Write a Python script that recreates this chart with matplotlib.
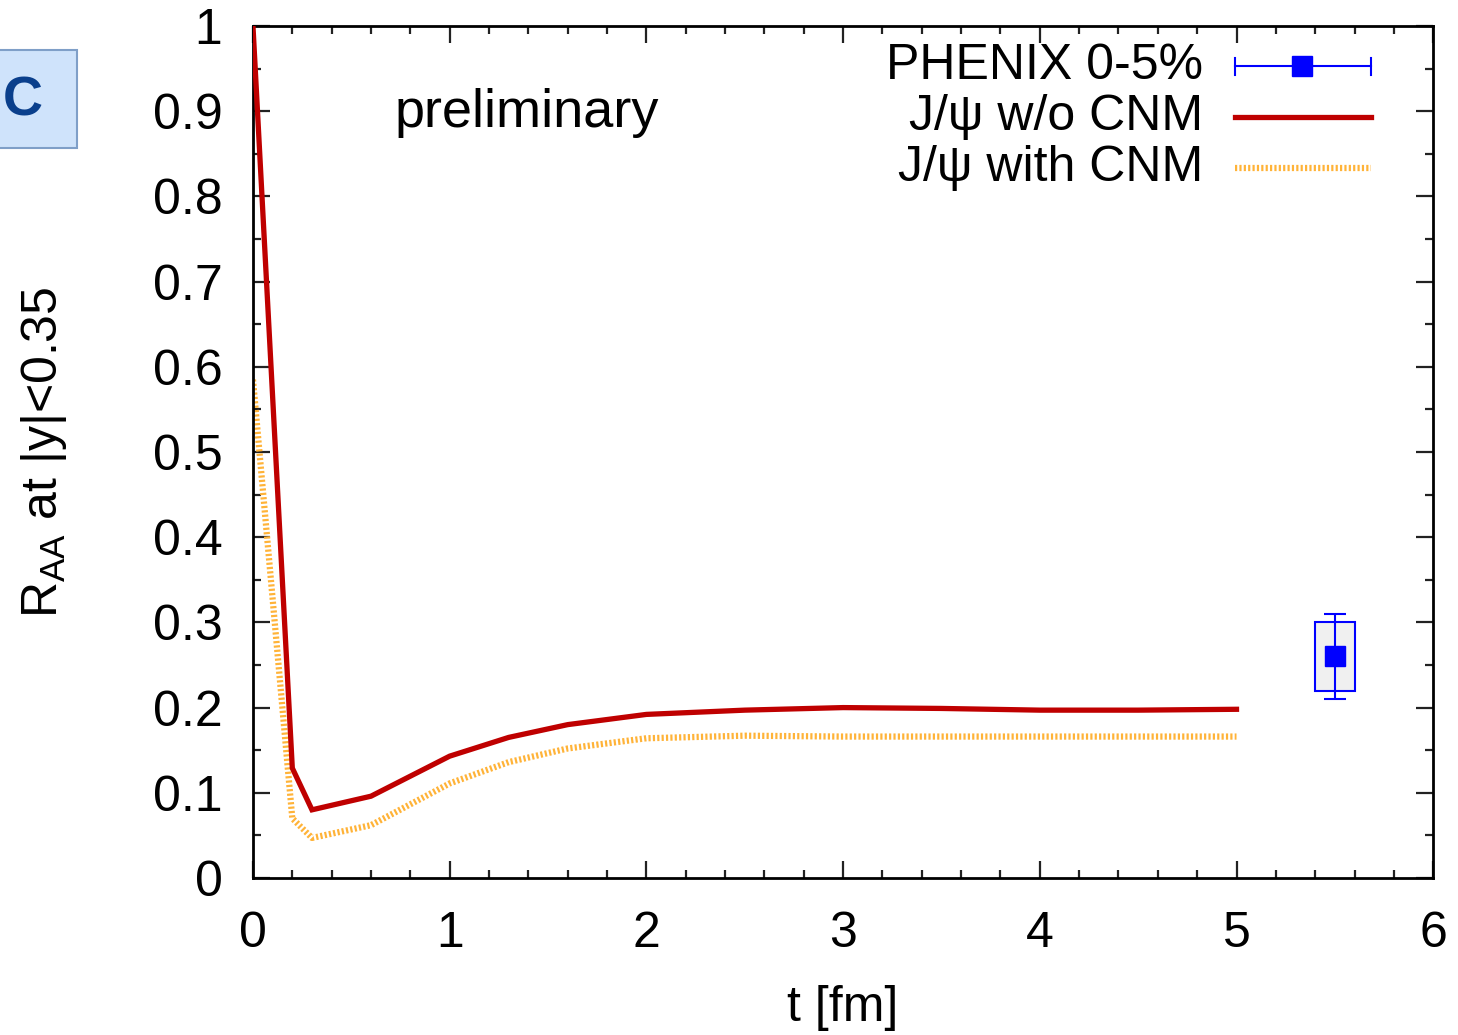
import matplotlib
matplotlib.use("Agg")
import matplotlib.pyplot as plt
from matplotlib.patches import FancyBboxPatch, Rectangle
from matplotlib.ticker import MultipleLocator
import numpy as np

plt.rcParams['font.family'] = ['Liberation Sans', 'DejaVu Sans']

# data
t_wo = [0.0, 0.2, 0.3, 0.6, 1.0, 1.3, 1.6, 2.0, 2.5, 3.0, 3.5, 4.0, 4.5, 5.0]
r_wo = [1.0, 0.129, 0.080, 0.096, 0.143, 0.165, 0.180, 0.192, 0.197, 0.200, 0.199, 0.197, 0.197, 0.198]
t_with = [0.0, 0.2, 0.3, 0.6, 1.0, 1.3, 1.6, 2.0, 2.5, 3.0, 3.5, 4.0, 4.5, 5.0]
r_with = [0.585, 0.070, 0.047, 0.062, 0.111, 0.136, 0.152, 0.164, 0.167, 0.166, 0.166, 0.166, 0.166, 0.166]
phenix_t = [5.5]
phenix_r = [0.26]
phenix_stat_lo = [0.21]
phenix_stat_hi = [0.31]
phenix_sys_lo = [0.22]
phenix_sys_hi = [0.30]
sys_halfwidth = 0.1

FS = 36

fig = plt.figure(figsize=(14.58, 10.35), dpi=100)
ax = fig.add_axes([0.1735, 0.1517, 0.8095, 0.8232])

red = '#bf0000'
yel = '#ffb338'
blue = '#0000ff'
dotted = (0, (0.35, 0.35))

ax.plot(t_wo, r_wo, color=red, lw=3.8, solid_joinstyle='miter', zorder=3)
ax.plot(t_with, r_with, color=yel, lw=4.5, linestyle=dotted, zorder=2)

for tt, r, slo, shi, elo, ehi in zip(phenix_t, phenix_r, phenix_sys_lo, phenix_sys_hi,
                                     phenix_stat_lo, phenix_stat_hi):
    ax.add_patch(Rectangle((tt - sys_halfwidth, slo), 2 * sys_halfwidth, shi - slo,
                           facecolor='#f0f0f0', edgecolor=blue, lw=1.5, zorder=3))
    ax.errorbar([tt], [r], yerr=[[r - elo], [ehi - r]], fmt='s', color=blue,
                ms=15, capsize=8, elinewidth=1.5, capthick=1.5, zorder=4)

ax.set_xlim(0, 6)
ax.set_ylim(0, 1)
ax.xaxis.set_major_locator(MultipleLocator(1))
ax.xaxis.set_minor_locator(MultipleLocator(0.2))
ax.yaxis.set_major_locator(MultipleLocator(0.1))
ax.yaxis.set_minor_locator(MultipleLocator(0.05))
ax.yaxis.set_major_formatter(plt.FuncFormatter(lambda v, p: '0' if abs(v) < 1e-9 else ('1' if abs(v - 1) < 1e-9 else f'{v:.1f}')))
ax.tick_params(which='both', direction='in', top=True, right=True, width=1.6, color='#222222')
ax.tick_params(which='major', length=12, labelsize=FS)
ax.tick_params(axis='x', which='major', pad=24)
ax.tick_params(axis='y', which='major', pad=22)
ax.tick_params(which='minor', length=6)
for s in ax.spines.values():
    s.set_linewidth(2)

ax.set_xlabel('t [fm]', fontsize=FS, labelpad=20)
ax.set_ylabel(r'R$_{\mathregular{AA}}$ at |y|<0.35', fontsize=FS, labelpad=60)

ax.text(0.72, 0.898, 'preliminary', fontsize=39, ha='left', va='center')

# legend (drawn manually)
ys = [0.953, 0.893, 0.833]
labels = ['PHENIX 0-5%', 'J/ψ w/o CNM', 'J/ψ with CNM']
for yy, lab in zip(ys, labels):
    ax.text(0.805, yy, lab, transform=ax.transAxes, ha='right', va='center', fontsize=FS)
x0, x1 = 0.832, 0.947
ax.plot([x0, x1], [ys[0]] * 2, transform=ax.transAxes, color=blue, lw=1.5)
ax.plot([x0, x0], [ys[0] - 0.01, ys[0] + 0.01], transform=ax.transAxes, color=blue, lw=1.5)
ax.plot([x1, x1], [ys[0] - 0.01, ys[0] + 0.01], transform=ax.transAxes, color=blue, lw=1.5)
ax.plot([0.889], [ys[0]], 's', transform=ax.transAxes, color=blue, ms=15)
ax.plot([x0, x1], [ys[1]] * 2, transform=ax.transAxes, color=red, lw=3.8)
ax.plot([x0, x1], [ys[2]] * 2, transform=ax.transAxes, color=yel, lw=4.5, linestyle=dotted)

# "C" panel tag
box = FancyBboxPatch((-0.01, 1 - 148 / 1035), 0.0625, 98 / 1035,
                     boxstyle='square,pad=0', transform=fig.transFigure,
                     facecolor='#cfe3fb', edgecolor='#7f9fc8', lw=1.5)
fig.patches.append(box)
fig.text(0.002, 1 - 101 / 1035, 'C', fontsize=40, fontweight='bold', color='#0a3f8c',
         ha='left', va='center')

fig.savefig('out.png', dpi=100)
